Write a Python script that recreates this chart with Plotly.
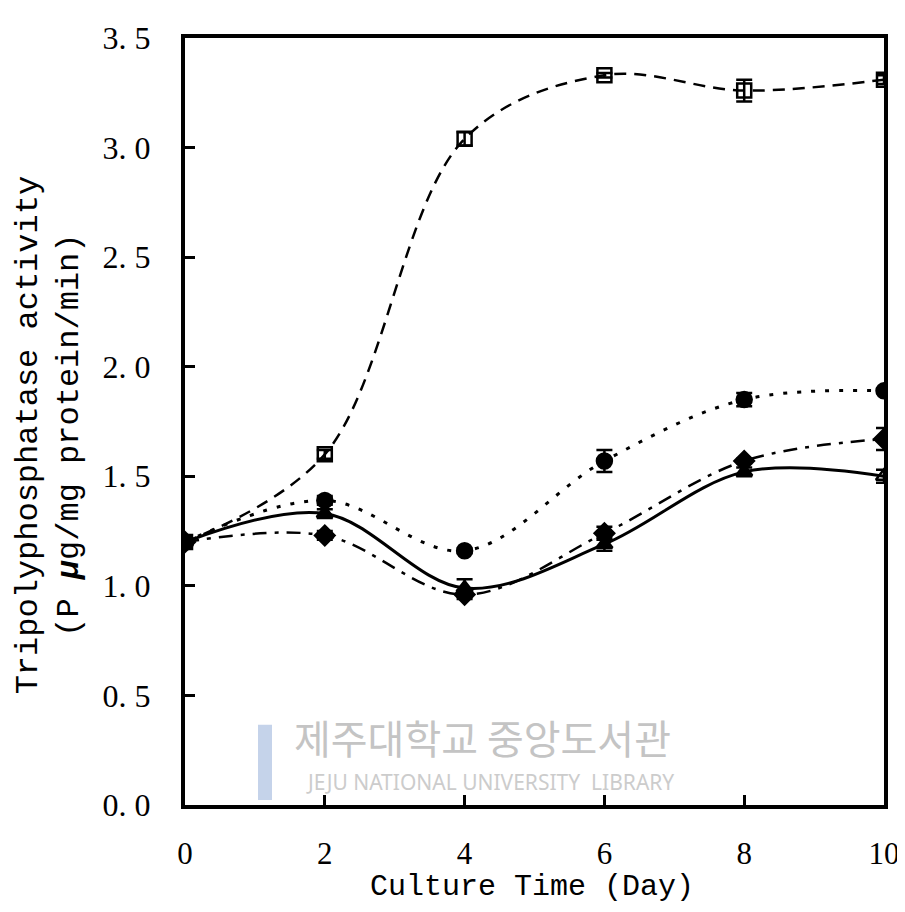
import plotly.graph_objects as go

days = [0, 2, 4, 6, 8, 10]
sq_vals = [1.20, 1.60, 3.04, 3.33, 3.26, 3.31]
sq_err = [0.0, 0.02, 0.03, 0.01, 0.05, 0.02]
ci_vals = [1.20, 1.39, 1.16, 1.57, 1.85, 1.89]
ci_err = [0.0, 0.02, 0.01, 0.05, 0.03, 0.01]
di_vals = [1.20, 1.23, 0.96, 1.24, 1.57, 1.67]
di_err = [0.0, 0.02, 0.02, 0.03, 0.01, 0.05]
tr_vals = [1.20, 1.33, 0.99, 1.19, 1.52, 1.50]
tr_err = [0.0, 0.02, 0.04, 0.03, 0.02, 0.03]

ytick_vals = [0, 0.5, 1.0, 1.5, 2.0, 2.5, 3.0, 3.5]
ytick_text = ["0. 0", "0. 5", "1. 0", "1. 5", "2. 0", "2. 5", "3. 0", "3. 5"]
xtick_vals = [0, 2, 4, 6, 8, 10]
xtick_text = ["0", "2", "4", "6", "8", "10"]

# page offset (body margin) compensation
OX, OY = 6, 8
L, R, T, B = 183 - OX, 905 - 882 + OX, 31 - OY, 912 - 805 + OY
PW, PH = 699, 774

fig = go.Figure()

def add_series(y, err, symbols, dash, width, size, smoothing=1.0):
    fig.add_trace(go.Scatter(
        x=days, y=y, mode="lines",
        line=dict(color="black", width=width, dash=dash, shape="spline", smoothing=smoothing),
        showlegend=False, hoverinfo="skip"))
    fig.add_trace(go.Scatter(
        x=days, y=y, mode="markers",
        error_y=dict(type="data", array=err, color="black", thickness=2.5, width=8),
        marker=dict(symbol=symbols, size=size, color="black",
                    line=dict(color="black", width=2.5)),
        showlegend=False))

add_series(ci_vals, ci_err, ["circle"] * 6, "4px,10px", 3, 15)
add_series(di_vals, di_err, ["diamond"] * 6, "14px,8px,4px,8px", 2.5, 15)
add_series(tr_vals, tr_err, ["triangle-up"] * 5 + ["triangle-up-open"], "solid", 3, 14)
add_series(sq_vals, sq_err, ["square"] + ["square-open"] * 5, "12px,8px", 2.5, 14)

def px(xp):
    return (xp - 183) / PW

def py(yp):
    return (805 - yp) / PH

# watermark
fig.add_annotation(x=px(480), y=py(768), xref="paper", yref="paper",
                   text="제주대학교 중앙도서관", showarrow=False,
                   font=dict(family="Noto Sans CJK KR", size=40, color="#c4c4c4"))
fig.add_annotation(x=px(488), y=py(798), xref="paper", yref="paper",
                   text="JEJU NATIONAL UNIVERSITY  LIBRARY", showarrow=False,
                   font=dict(family="Noto Sans", size=21, color="#cccccc"))
fig.add_shape(type="rect", xref="paper", yref="paper",
              x0=px(256), x1=px(270), y0=py(800), y1=py(724),
              fillcolor="#c5d3ea", line=dict(width=0), layer="below")

# axis titles
fig.add_annotation(x=px(47), y=py(432), xref="paper", yref="paper",
                   text="Tripolyphosphatase activity<br>(P <i><b>μ</b></i>g/mg protein/min)",
                   showarrow=False, textangle=-90, xanchor="center", yanchor="middle",
                   font=dict(family="Liberation Mono", size=32, color="black"))
fig.add_annotation(x=px(530), y=py(888), xref="paper", yref="paper",
                   text="Culture Time (Day)", showarrow=False, xanchor="center", yanchor="middle",
                   font=dict(family="Liberation Mono", size=30, color="black"))

fig.update_xaxes(range=[0, 10], tickvals=xtick_vals, ticktext=xtick_text,
                 showline=True, linecolor="black", linewidth=4, mirror=True,
                 ticks="inside", ticklen=10, tickwidth=3, tickcolor="black",
                 showgrid=False, zeroline=False, ticklabelstandoff=18,
                 tickfont=dict(family="Liberation Serif", size=31, color="black"))
fig.update_yaxes(range=[0, 3.5], tickvals=ytick_vals, ticktext=ytick_text,
                 showline=True, linecolor="black", linewidth=4, mirror=True,
                 ticks="inside", ticklen=10, tickwidth=3, tickcolor="black",
                 showgrid=False, zeroline=False, ticklabelstandoff=24,
                 tickfont=dict(family="Liberation Serif", size=32, color="black"))

fig.update_layout(width=905, height=912, plot_bgcolor="white", paper_bgcolor="white",
                  margin=dict(l=L, r=R, t=T, b=B))

fig.write_html("out.html")
